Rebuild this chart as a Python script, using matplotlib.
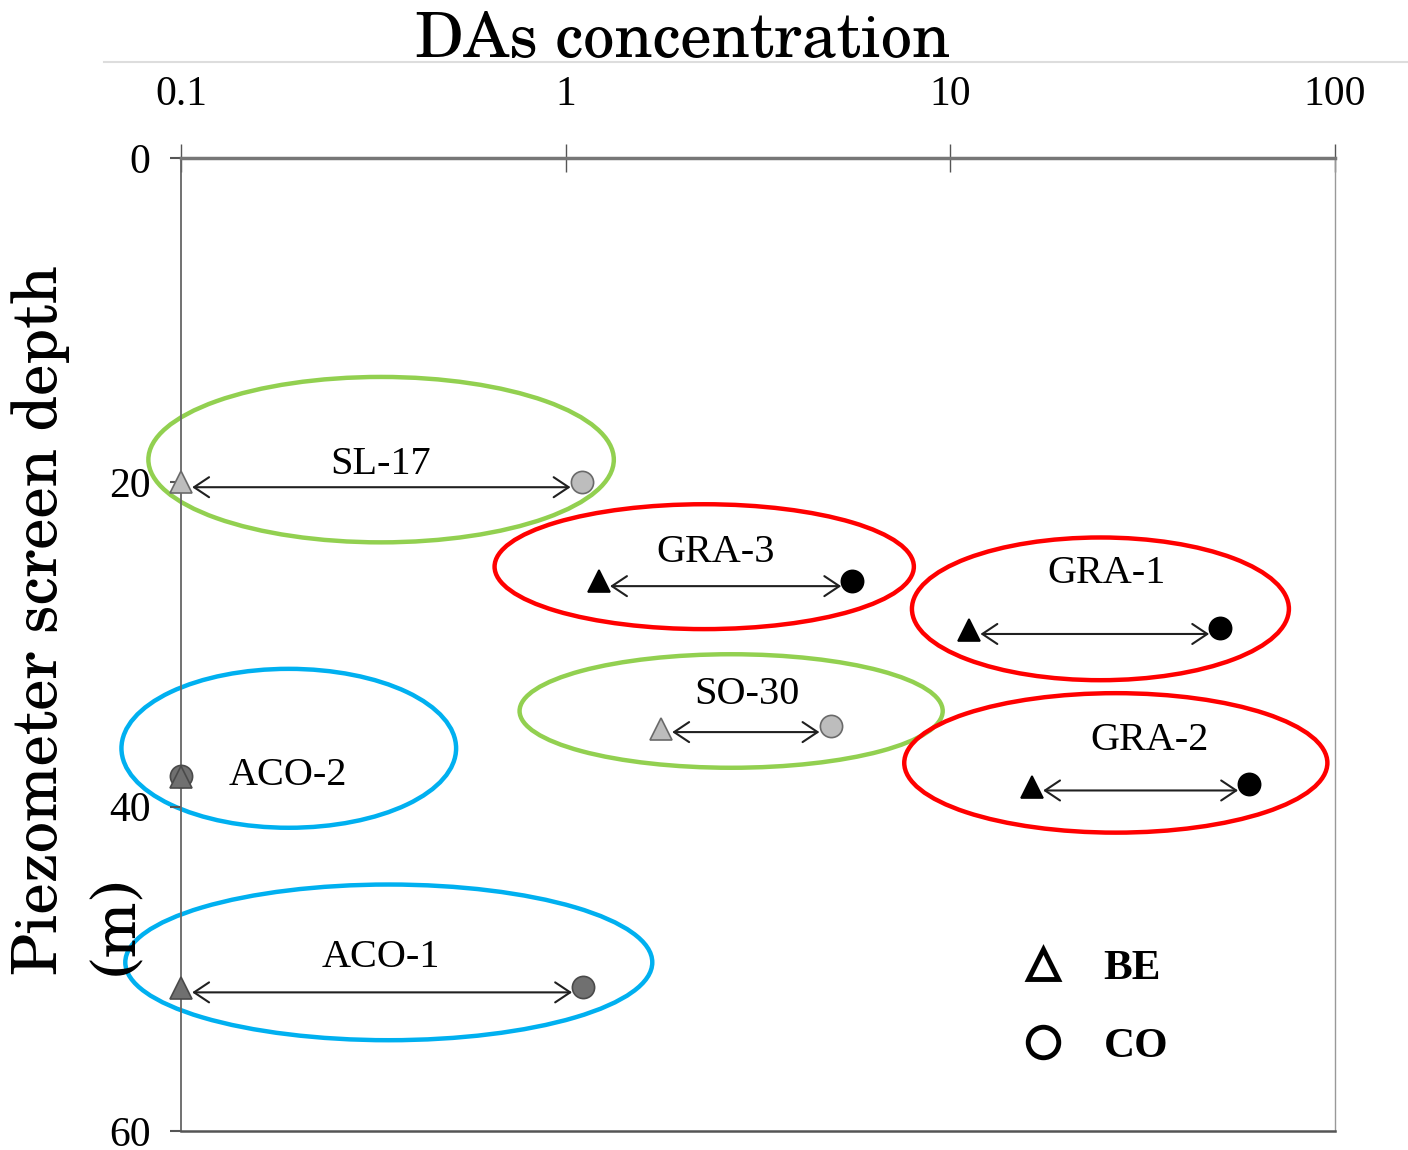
import numpy as np
import matplotlib
matplotlib.use("Agg")
import matplotlib.pyplot as plt
from matplotlib.patches import Ellipse
from matplotlib.lines import Line2D
import matplotlib.transforms as mtransforms

# Dados
wells = ["SL-17", "GRA-3", "GRA-1", "SO-30", "GRA-2", "ACO-2", "ACO-1"]
be_conc = [0.1, 1.22, 11.2, 1.77, 16.3, 0.1, 0.1]
co_conc = [1.1, 5.56, 50.3, 4.88, 59.8, 0.1, 1.11]
be_depth = [20.0, 26.1, 29.1, 35.2, 38.8, 38.2, 51.2]
co_depth = [20.0, 26.1, 29.0, 35.0, 38.6, 38.1, 51.1]
groups = ["SL", "GRA", "GRA", "SO", "GRA", "ACO", "ACO"]

# elipses: centro (log10 conc, profundidade), largura (décadas), altura (m)
ell_cx = [-0.48, 0.36, 1.39, 0.43, 1.43, -0.72, -0.46]
ell_cy = [18.6, 25.2, 27.8, 34.1, 37.3, 36.4, 49.6]
ell_w = [1.21, 1.09, 0.98, 1.10, 1.10, 0.87, 1.37]
ell_h = [10.2, 7.7, 8.8, 7.0, 8.6, 9.8, 9.6]

# posição dos rótulos (conc, profundidade)
lab_x = [0.33, 2.45, 25.5, 2.95, 33.0, 0.19, 0.33]
lab_y = [18.9, 24.3, 25.6, 33.1, 35.9, 38.1, 49.3]

fill = {"SL": "#bdbdbd", "SO": "#bdbdbd", "GRA": "black", "ACO": "#707070"}
edge = {"SL": "#6a6a6a", "SO": "#6a6a6a", "GRA": "black", "ACO": "#4a4a4a"}
ring = {"SL": "#92d050", "SO": "#92d050", "GRA": "#ff0000", "ACO": "#00b0f0"}

serif = ["Liberation Serif", "DejaVu Serif"]
schola = ["TeX Gyre Schola", "DejaVu Serif"]

fig = plt.figure(figsize=(14.08, 11.5), dpi=100)
ax = fig.add_axes([0.1286, 0.0165, 0.8196, 0.8461])
ax.set_xscale("log")
ax.set_xlim(0.1, 100)
ax.set_ylim(60, 0)

# elipses no espaço (log10 x, profundidade)
tr = mtransforms.Affine2D().scale(1 / 3, -1 / 60).translate(1 / 3, 1) + ax.transAxes
for i, w in enumerate(wells):
    e = Ellipse((ell_cx[i], ell_cy[i]), ell_w[i], ell_h[i], transform=tr,
                fill=False, edgecolor=ring[groups[i]], lw=3.2, zorder=1, clip_on=False)
    ax.add_patch(e)

for i, w in enumerate(wells):
    g = groups[i]
    yy = (be_depth[i] + co_depth[i]) / 2 + 0.3
    if be_conc[i] != co_conc[i]:
        ax.annotate("", xy=(co_conc[i], yy), xytext=(be_conc[i], yy),
                    arrowprops=dict(arrowstyle="<->,head_length=0.45,head_width=0.3",
                                    lw=1.5, color="#202020",
                                    shrinkA=8, shrinkB=8, mutation_scale=24),
                    zorder=2)
    ax.plot(co_conc[i], co_depth[i], "o", ms=16, mfc=fill[g], mec=edge[g], mew=1.2,
            zorder=3, clip_on=False)
    ax.plot(be_conc[i], be_depth[i], "^", ms=16, mfc=fill[g], mec=edge[g], mew=1.2,
            zorder=4, clip_on=False)
    ax.text(lab_x[i], lab_y[i], w, family=serif, fontsize=29, ha="center",
            va="center", zorder=5)

# eixos
ax.xaxis.tick_top()
ax.set_xticks([0.1, 1, 10, 100])
ax.set_xticklabels(["0.1", "1", "10", "100"])
ax.xaxis.set_minor_locator(matplotlib.ticker.NullLocator())
ax.set_yticks([0, 20, 40, 60])
ax.tick_params(axis="x", direction="inout", length=20, width=1, color="#555555",
               pad=22, labelsize=30)
ax.tick_params(axis="y", direction="out", length=8, width=1.5, color="#555555",
               pad=14, labelsize=30)
for lbl in ax.get_xticklabels() + ax.get_yticklabels():
    lbl.set_family(serif)

ax.spines["top"].set_color("#777777")
ax.spines["top"].set_linewidth(2.5)
ax.spines["left"].set_color("#666666")
ax.spines["left"].set_linewidth(1.3)
ax.spines["bottom"].set_color("#555555")
ax.spines["bottom"].set_linewidth(1.8)
ax.spines["right"].set_color("#999999")
ax.spines["right"].set_linewidth(1.0)

# legenda
handles = [
    Line2D([], [], ls="none", marker="^", ms=22, mfc="white", mec="black", mew=3.5),
    Line2D([], [], ls="none", marker="o", ms=22, mfc="white", mec="black", mew=3.5),
]
ax.legend(handles, ["BE", "CO"], loc="center", bbox_to_anchor=(0.79, 0.127),
          frameon=False, handlelength=1.2, handletextpad=0.8, labelspacing=0.9,
          prop={"family": serif, "weight": "bold", "size": 31})

# título e rótulo y
fig.text(0.4847, 1 - 57 / 1150, "DAs concentration", family=schola,
         fontsize=45, fontweight="normal", ha="center", va="baseline")
fig.add_artist(Line2D([104 / 1408, 1], [1 - 62 / 1150] * 2, transform=fig.transFigure,
                      color="#dddddd", lw=1.5))
fig.text(0.008, 1 - 975 / 1150, "Piezometer screen depth\n(m)", family=schola,
         fontsize=45, fontweight="normal", rotation=90, ha="left", va="bottom",
         multialignment="left", linespacing=1.4)

fig.savefig("out.png", dpi=100)
